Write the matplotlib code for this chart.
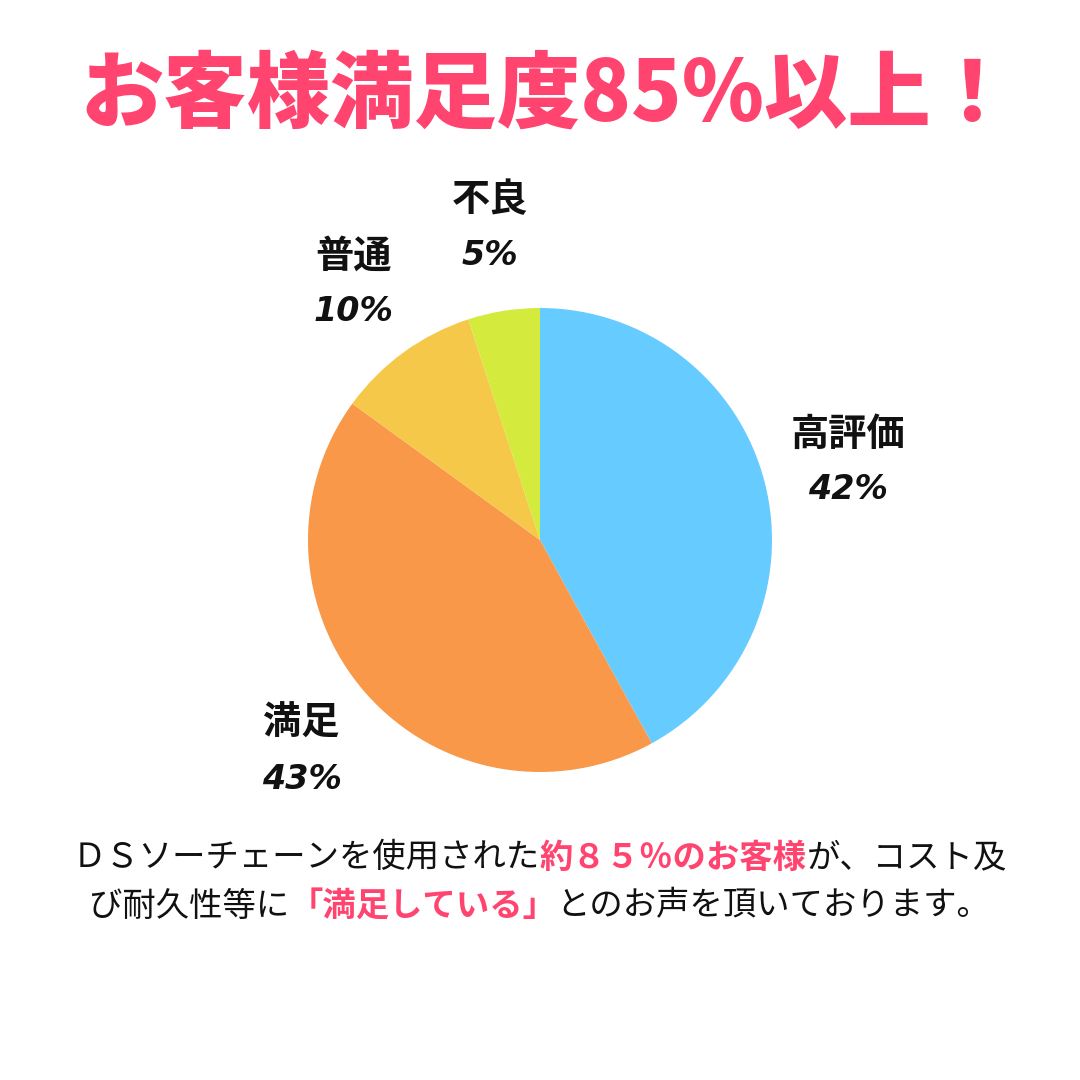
import matplotlib.pyplot as plt
import numpy as np
from matplotlib.offsetbox import TextArea, HPacker, AnnotationBbox

plt.rcParams['font.family'] = ['Noto Sans CJK JP', 'DejaVu Sans']

# Data
labels = ['高評価', '満足', '普通', '不良']
values = [42, 43, 10, 5]
colors = ['#66CCFF', '#F89848', '#F6C84A', '#D4EA3C']

title = 'お客様満足度85%以上！'
pink = '#FF4470'

# body text as (text, highlighted) segments
line1 = [('ＤＳソーチェーンを使用された', False), ('約８５％のお客様', True),
         ('が、コスト及', False)]
line2 = [('び耐久性等に', False), ('「満足している」', True),
         ('とのお声を頂いております。', False)]

fig = plt.figure(figsize=(10.8, 10.8), dpi=100)
fig.patch.set_facecolor('white')

# pie axes: centre (540, 540), radius ~232 px
r = 232 / 1080
ax = fig.add_axes([0.5 - r, 0.5 - r, 2 * r, 2 * r])
wedges, _ = ax.pie(values, colors=colors, startangle=90, counterclock=False,
                   radius=1.0, wedgeprops=dict(linewidth=0))
ax.set_xlim(-1, 1)
ax.set_ylim(-1, 1)
ax.set_aspect('equal')
ax.axis('off')

# labels outside each wedge
for w, lab, v in zip(wedges, labels, values):
    ang = np.deg2rad((w.theta1 + w.theta2) / 2)
    d = 1.37
    x, y = d * np.cos(ang), d * np.sin(ang)
    ax.text(x, y + 0.115, lab, ha='center', va='center', fontsize=27.5,
            fontweight='bold', color='#111111', clip_on=False)
    ax.text(x, y - 0.125, f'{v}%', ha='center', va='center', fontsize=24,
            fontweight='bold', fontstyle='italic', color='#111111',
            family=['DejaVu Sans'], clip_on=False)

# title
fig.text(547 / 1080, 1 - 95 / 1080, title, ha='center', va='center',
         fontsize=60, fontweight='heavy', color=pink)


def draw_line(segs, yfrac):
    parts = []
    for s, hl in segs:
        props = dict(fontsize=24, color=pink if hl else '#111111',
                     fontweight='bold' if hl else 'normal')
        parts.append(TextArea(s, textprops=props))
    box = HPacker(children=parts, align='baseline', pad=0, sep=0)
    ab = AnnotationBbox(box, (0.5, yfrac), xycoords='figure fraction',
                        frameon=False, box_alignment=(0.5, 0.5))
    fig.add_artist(ab)


draw_line(line1, 1 - 858 / 1080)
draw_line(line2, 1 - 906 / 1080)

fig.savefig('out.png', dpi=100, facecolor='white')
